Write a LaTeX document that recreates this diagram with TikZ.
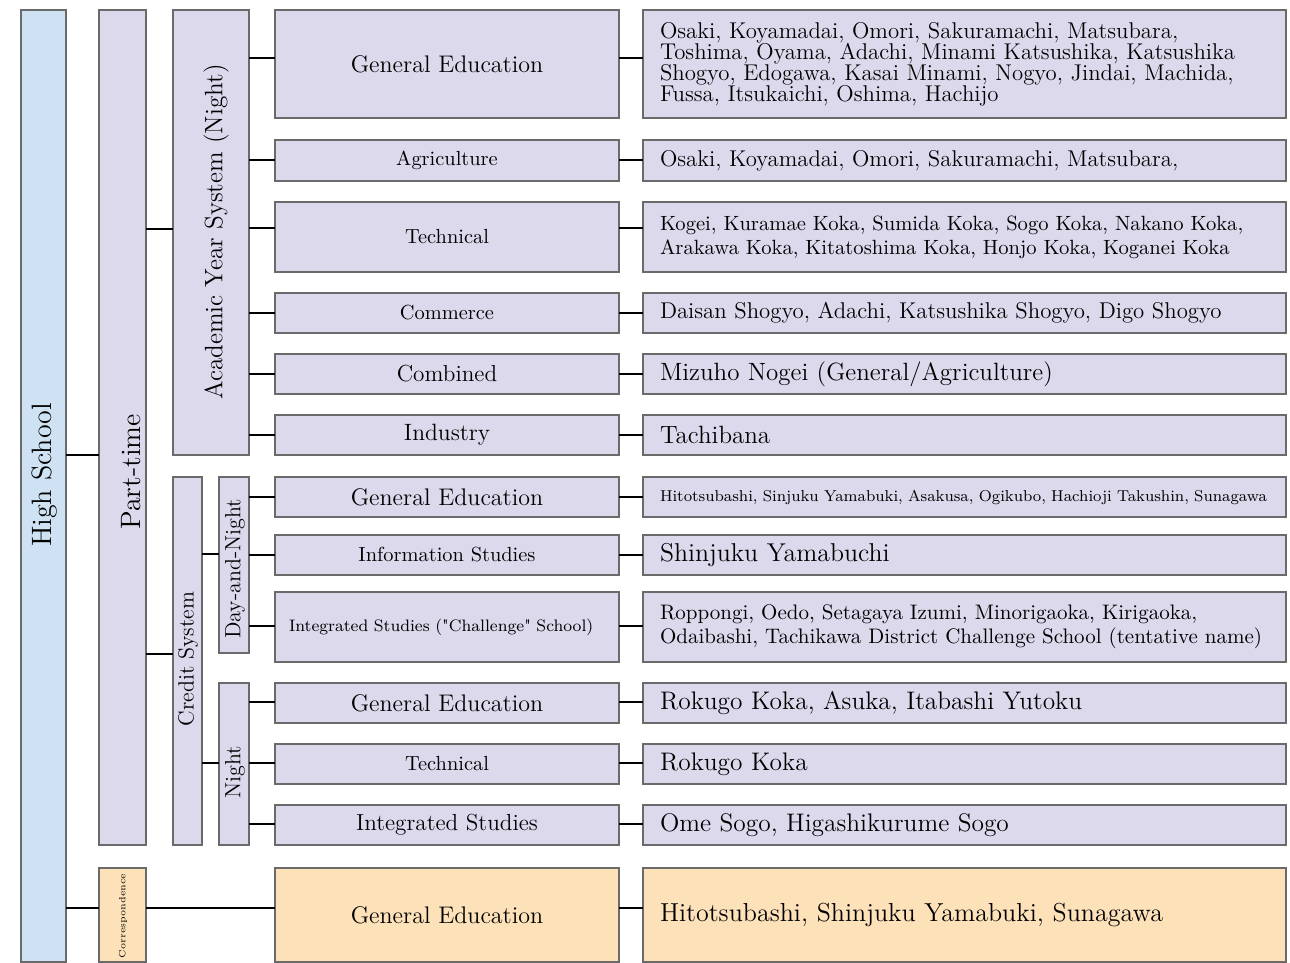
\documentclass[tikz,border=0pt]{standalone}
\usepackage{fontspec}
\newfontfamily\lmq{Latin Modern Roman}
\definecolor{hsblue}{HTML}{CFE2F3}
\definecolor{lav}{HTML}{DCD9EC}
\definecolor{peach}{HTML}{FDE1B9}
\definecolor{bord}{HTML}{6A6A6A}
\newcommand\fs[2]{\fontsize{#1}{#2}\selectfont}
\newcommand\sq{{\lmq"}}
\newcommand\bx[7]{\node[box,#6,minimum width={(#4-#2)*0.5pt},minimum height={(#5-#3)*0.5pt}] (#1) at ({(#2+#4)/2},{(#3+#5)/2}) {#7};}
\newcommand\vbx[6]{\node[box,#6,rotate=90,minimum width={(#5-#3)*0.5pt},minimum height={(#4-#2)*0.5pt}] (#1) at ({(#2+#4)/2},{(#3+#5)/2}) {};}
\newcommand\rbx[5]{\node[box,#4,text width=304.5pt,inner xsep=8.5pt,align=left,minimum height={(#3-#2)*0.5pt}] (#1) at (964.5,{(#2+#3)/2}) {#5};}
\tikzset{
  box/.style={draw=bord, line width=0.6pt, fill=lav, inner sep=0pt, outer sep=0pt},
  peachbox/.style={fill=peach},
  bluebox/.style={fill=hsblue},
  conn/.style={line width=1.1pt, black},
  vlab/.style={rotate=90, inner sep=0pt},
}
\begin{document}
\begin{tikzpicture}[x=0.5pt,y=-0.5pt]
\useasboundingbox (0,0) rectangle (1290,963);
% vertical category boxes
\vbx{hs}{21}{10}{66}{962}{bluebox}
\vbx{pt}{99}{10}{146}{845}{}
\vbx{corr}{99}{868}{146}{962}{peachbox}
\vbx{acad}{173}{10}{249}{455}{}
\vbx{credit}{173}{477}{202}{845}{}
\vbx{dn}{219}{477}{249}{653}{}
\vbx{night}{219}{683}{249}{845}{}
\node[vlab,font=\fs{14}{16}] (hs-t) at (45,475) {High School};
\node[vlab,font=\fs{14}{16}] (pt-t) at (131,472) {Part-time};
\node[vlab,font=\fs{4.5}{5}] (corr-t) at (123,916) {Correspondence};
\node[vlab,font=\fs{12.6}{14}] (acad-t) at (216,232) {Academic Year System (Night)};
\node[vlab,font=\fs{11}{13}] (credit-t) at (188,659) {Credit System};
\node[vlab,font=\fs{11}{13}] (dn-t) at (235,569) {Day-and-Night};
\node[vlab,font=\fs{11}{13}] (night-t) at (235,772) {Night};
% middle boxes
\bx{m1}{275}{10}{619}{118}{font=\fs{12}{14}}{General Education}
\bx{m2}{275}{140}{619}{181}{font=\fs{10.2}{12}}{Agriculture}
\bx{m3}{275}{202}{619}{272}{font=\fs{10.2}{12}}{Technical}
\bx{m4}{275}{293}{619}{333}{font=\fs{10.2}{12}}{Commerce}
\bx{m5}{275}{354}{619}{394}{font=\fs{11.6}{14}}{Combined}
\bx{m6}{275}{415}{619}{455}{font=\fs{11.8}{14}}{Industry}
\bx{m7}{275}{477}{619}{517}{font=\fs{12}{14}}{General Education}
\bx{m8}{275}{535}{619}{575}{font=\fs{10.2}{12}}{Information Studies}
\node[box,text width=158pt,inner xsep=7pt,align=left,font=\fs{8.3}{10},minimum height=35pt] (m9) at (447,627) {Integrated Studies (\sq Challenge\sq{} School)};
\bx{m10}{275}{683}{619}{723}{font=\fs{12}{14}}{General Education}
\bx{m11}{275}{744}{619}{784}{font=\fs{10.2}{12}}{Technical}
\bx{m12}{275}{805}{619}{845}{font=\fs{11.6}{14}}{Integrated Studies}
\bx{m13}{275}{868}{619}{962}{peachbox,font=\fs{12}{14}}{General Education}
% right boxes
\rbx{r1}{10}{118}{font=\fs{11.4}{10.5}}{Osaki, Koyamadai, Omori, Sakuramachi, Matsubara,\\Toshima, Oyama, Adachi, Minami Katsushika, Katsushika\\Shogyo, Edogawa, Kasai Minami, Nogyo, Jindai, Machida,\\Fussa, Itsukaichi, Oshima, Hachijo}
\rbx{r2}{140}{181}{font=\fs{11.4}{13}}{Osaki, Koyamadai, Omori, Sakuramachi, Matsubara,}
\rbx{r3}{202}{272}{font=\fs{10.3}{12}}{Kogei, Kuramae Koka, Sumida Koka, Sogo Koka, Nakano Koka,\\Arakawa Koka, Kitatoshima Koka, Honjo Koka, Koganei Koka}
\rbx{r4}{293}{333}{font=\fs{11.4}{13}}{Daisan Shogyo, Adachi, Katsushika Shogyo, Digo Shogyo}
\rbx{r5}{354}{394}{font=\fs{12.5}{14}}{Mizuho Nogei (General/Agriculture)}
\rbx{r6}{415}{455}{font=\fs{12.5}{14}}{Tachibana}
\rbx{r7}{477}{517}{font=\fs{7.9}{10}}{\mbox{Hitotsubashi, Sinjuku Yamabuki, Asakusa, Ogikubo, Hachioji Takushin, Sunagawa}}
\rbx{r8}{535}{575}{font=\fs{12.9}{14}}{Shinjuku Yamabuchi}
\rbx{r9}{592}{662}{font=\fs{10.5}{12}}{Roppongi, Oedo, Setagaya Izumi, Minorigaoka, Kirigaoka,\\Odaibashi, Tachikawa District Challenge School (tentative name)}
\rbx{r10}{683}{723}{font=\fs{12.7}{14}}{Rokugo Koka, Asuka, Itabashi Yutoku}
\rbx{r11}{744}{784}{font=\fs{12.7}{14}}{Rokugo Koka}
\rbx{r12}{805}{845}{font=\fs{12.7}{14}}{Ome Sogo, Higashikurume Sogo}
\rbx{r13}{868}{962}{peachbox,font=\fs{13}{14}}{Hitotsubashi, Shinjuku Yamabuki, Sunagawa}
% connectors: tree
\draw[conn] (hs.south |- 0,455) -- (pt.north |- 0,455);
\draw[conn] (hs.south |- 0,908) -- (corr.north |- 0,908);
\draw[conn] (corr.south |- 0,908) -- (m13.west |- 0,908);
\draw[conn] (pt.south |- 0,229) -- (acad.north |- 0,229);
\draw[conn] (pt.south |- 0,654) -- (credit.north |- 0,654);
\draw[conn] (credit.south |- 0,554) -- (dn.north |- 0,554);
\draw[conn] (credit.south |- 0,763) -- (night.north |- 0,763);
\foreach \m/\yy in {m1/58,m2/160,m3/228,m4/313,m5/374,m6/435}
  \draw[conn] (acad.south |- 0,\yy) -- (\m.west |- 0,\yy);
\foreach \m/\yy in {m7/497,m8/555,m9/626}
  \draw[conn] (dn.south |- 0,\yy) -- (\m.west |- 0,\yy);
\foreach \m/\yy in {m10/702,m11/763,m12/824}
  \draw[conn] (night.south |- 0,\yy) -- (\m.west |- 0,\yy);
\foreach \i/\yy in {1/58,2/160,3/228,4/313,5/374,6/435,7/497,8/555,9/626,10/702,11/763,12/824,13/908}
  \draw[conn] (m\i.east |- 0,\yy) -- (r\i.west |- 0,\yy);
\end{tikzpicture}
\end{document}
